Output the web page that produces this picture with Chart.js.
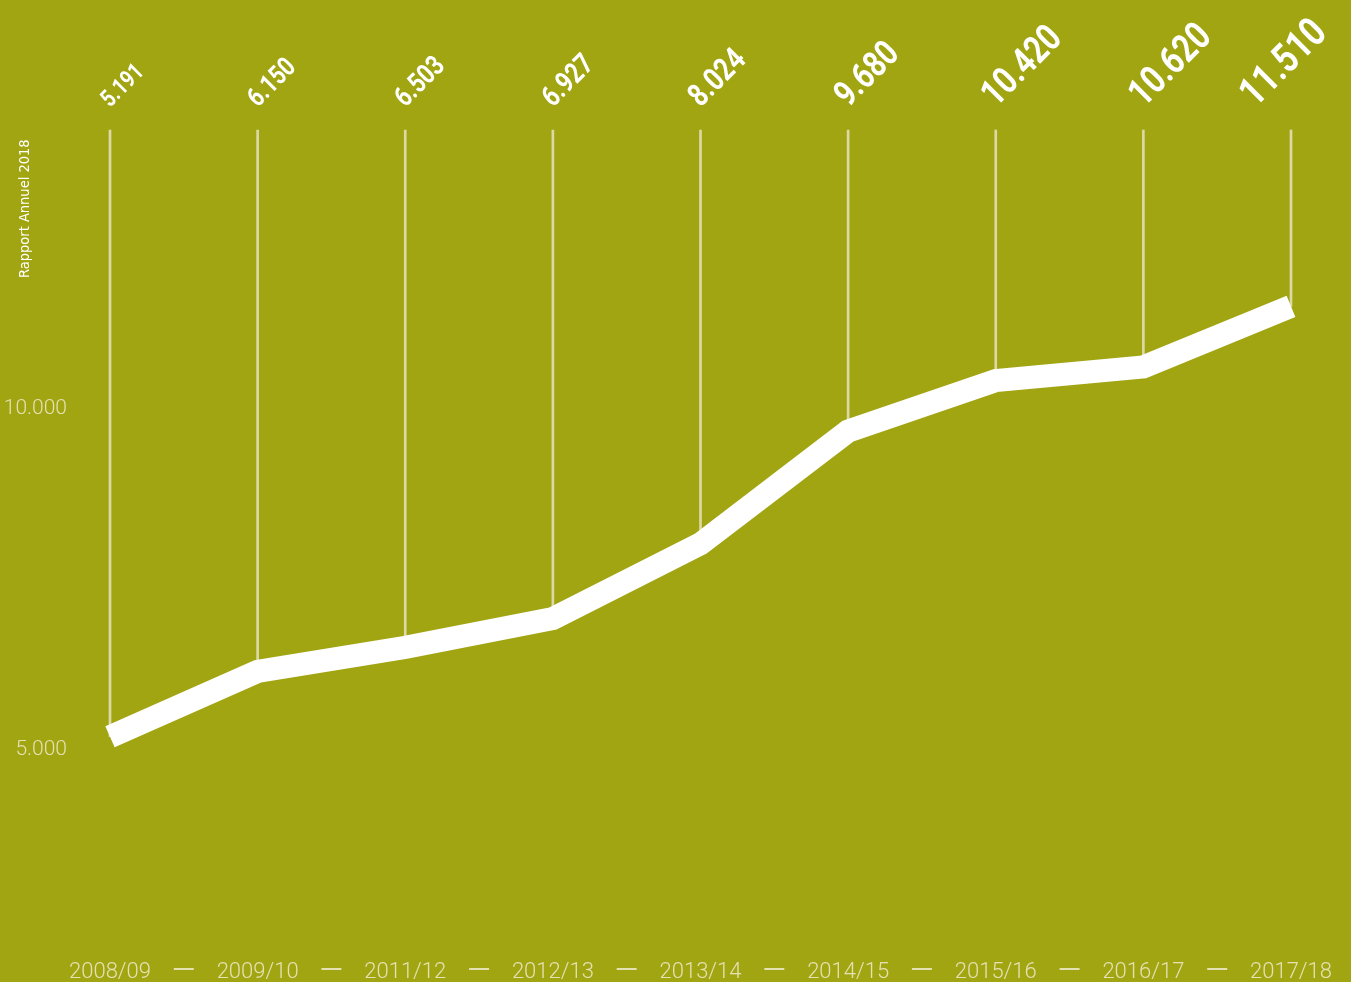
<!DOCTYPE html>
<html>
<head>
<meta charset="utf-8">
<script src="https://cdn.jsdelivr.net/npm/chart.js@4"></script>
<style>
  html, body { margin: 0; padding: 0; background: #a2a512; overflow: hidden; }
  #wrap { width: 1351px; height: 982px; position: relative; }
</style>
</head>
<body>
<div id="wrap"><canvas id="memberChart"></canvas></div>
<script>
const years = ["2008/09", "2009/10", "2011/12", "2012/13", "2013/14", "2014/15", "2015/16", "2016/17", "2017/18"];
const members = [5191, 6150, 6503, 6927, 8024, 9680, 10420, 10620, 11510];
const yTicks = [5000, 10000];
const sideNote = "Rapport Annuel 2018";

const cream = "#e4e1b3";
const thin = "Roboto, 'DejaVu Sans Condensed', sans-serif";
const narrow = "'DejaVu Sans Condensed', 'DejaVu Sans', sans-serif";
const yMin = 2500;
const yMax = 14100;

// 5191 -> "5.191"
const fmt = v => String(v).replace(/\B(?=(\d{3})+(?!\d))/g, ".");

const decorations = {
  id: "decorations",
  afterDatasetsDraw(chart) {
    const ctx = chart.ctx;
    const xs = chart.scales.x;
    const pts = chart.getDatasetMeta(1).data;
    const ang = Math.PI / 4;
    const squeeze = 0.8;

    // rotated value labels, size grows with the value
    pts.forEach((pt, i) => {
      const v = members[i];
      const size = Math.round(10 + v * 0.0027);
      ctx.save();
      ctx.font = "bold " + size + "px Roboto, sans-serif";
      const w = ctx.measureText(fmt(v)).width * squeeze;
      let x0 = pt.x;
      const over = x0 + w * Math.cos(ang) + size * 0.5 - chart.width + 2;
      if (over > 0) x0 -= over;
      ctx.translate(x0, 108);
      ctx.rotate(-ang);
      ctx.scale(squeeze, 1);
      ctx.fillStyle = "#ffffff";
      ctx.textAlign = "left";
      ctx.textBaseline = "alphabetic";
      ctx.fillText(fmt(v), 0, 0);
      ctx.restore();
    });

    // dashes between the year labels
    ctx.save();
    ctx.strokeStyle = cream;
    ctx.lineWidth = 2;
    const dy = xs.bottom - 13;
    for (let i = 0; i < years.length - 1; i++) {
      const mx = (xs.getPixelForValue(i) + xs.getPixelForValue(i + 1)) / 2;
      ctx.beginPath();
      ctx.moveTo(mx - 10, dy);
      ctx.lineTo(mx + 10, dy);
      ctx.stroke();
    }
    ctx.restore();

    // side note
    ctx.save();
    ctx.translate(25, 278);
    ctx.rotate(-Math.PI / 2);
    ctx.font = "14.5px " + narrow;
    ctx.fillStyle = "#ffffff";
    ctx.textAlign = "left";
    ctx.textBaseline = "middle";
    ctx.fillText(sideNote, 0, 0);
    ctx.restore();
  }
};

new Chart(document.getElementById("memberChart"), {
  data: {
    labels: years,
    datasets: [
      {
        type: "bar",
        data: members.map(v => [v, yMax]),
        backgroundColor: "#dcd9a6",
        barThickness: 2,
        order: 2,
        clip: false
      },
      {
        type: "line",
        data: members,
        borderColor: "#ffffff",
        borderWidth: 23,
        borderJoinStyle: "miter",
        borderCapStyle: "butt",
        pointRadius: 0,
        tension: 0,
        order: 1,
        clip: false
      }
    ]
  },
  options: {
    responsive: true,
    maintainAspectRatio: false,
    animation: false,
    layout: { padding: { top: 130, right: 60, left: 0, bottom: 0 } },
    plugins: {
      legend: { display: false },
      tooltip: { enabled: false }
    },
    scales: {
      x: {
        offset: false,
        grid: { display: false, drawTicks: false },
        border: { display: false },
        ticks: {
          color: cream,
          font: { family: thin, size: 22, weight: "300" },
          padding: 39,
          maxRotation: 0,
          autoSkip: false
        },
        afterFit: s => { s.height = 62; s.paddingLeft = 0; s.paddingRight = 0; }
      },
      y: {
        min: yMin,
        max: yMax,
        grid: { display: false, drawTicks: false },
        border: { display: false },
        afterBuildTicks: s => { s.ticks = yTicks.map(v => ({ value: v })); },
        ticks: {
          color: cream,
          font: { family: thin, size: 21, weight: "300" },
          padding: 43,
          callback: v => fmt(v)
        },
        afterFit: s => { s.width = 110; }
      }
    }
  },
  plugins: [decorations]
});
</script>
</body>
</html>
